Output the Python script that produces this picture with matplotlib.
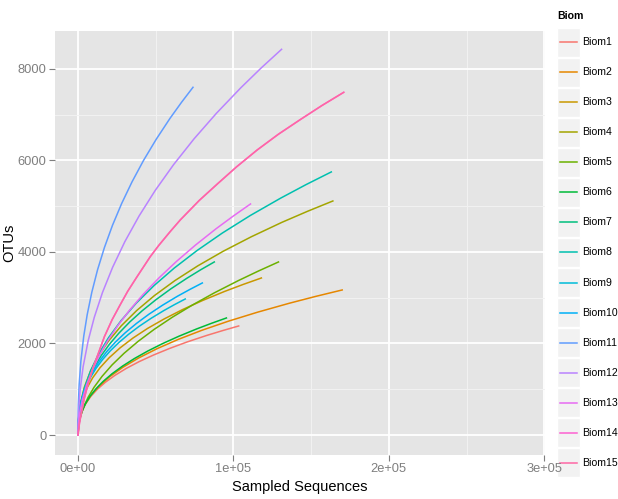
import matplotlib
matplotlib.use('Agg')
import matplotlib.pyplot as plt
from matplotlib import font_manager
from matplotlib.patches import Rectangle

plt.rcParams['font.family'] = ['Liberation Sans', 'DejaVu Sans']
installed = {f.name for f in font_manager.fontManager.ttflist}
if 'Liberation Sans Narrow' in installed:
    legend_font, legend_size = 'Liberation Sans Narrow', 9
else:
    legend_font, legend_size = 'Liberation Sans', 7.6

# rarefaction curves (sampled sequences, OTUs)
biom1_x = [0, 310, 1034, 2585, 5170, 8272, 12408, 17578, 23782, 31020, 39292, 48598, 58938, 70312, 82720, 93060, 103400]
biom1_y = [0, 220, 361, 525, 698, 846, 999, 1152, 1304, 1455, 1603, 1748, 1892, 2035, 2175, 2282, 2383]
biom2_x = [0, 510, 1700, 4250, 8500, 13600, 20400, 28900, 39100, 51000, 64600, 79900, 96900, 115600, 136000, 153000, 170000]
biom2_y = [0, 261, 438, 649, 874, 1070, 1274, 1480, 1685, 1889, 2091, 2291, 2489, 2685, 2880, 3030, 3170]
biom3_x = [0, 354, 1180, 2950, 5900, 9440, 14160, 20060, 27140, 35400, 44840, 55460, 67260, 80240, 94400, 106200, 118000]
biom3_y = [0, 336, 544, 785, 1035, 1250, 1470, 1689, 1906, 2120, 2331, 2537, 2741, 2941, 3139, 3290, 3432]
biom4_x = [0, 492, 1640, 4100, 8200, 13120, 19680, 27880, 37720, 49200, 62320, 77080, 93480, 111520, 131200, 147600, 164000]
biom4_y = [0, 421, 706, 1047, 1411, 1726, 2056, 2388, 2719, 3048, 3374, 3697, 4017, 4333, 4648, 4888, 5115]
biom5_x = [0, 387, 1290, 3225, 6450, 10320, 15480, 21930, 29670, 38700, 49020, 60630, 73530, 87720, 103200, 116100, 129000]
biom5_y = [0, 196, 361, 576, 821, 1043, 1282, 1532, 1787, 2047, 2309, 2573, 2839, 3107, 3375, 3584, 3782]
biom6_x = [0, 287, 955, 2388, 4775, 7640, 11460, 16235, 21965, 28650, 36290, 44885, 54435, 64940, 76400, 85950, 95500]
biom6_y = [0, 199, 337, 505, 685, 842, 1006, 1173, 1340, 1506, 1671, 1835, 1998, 2159, 2319, 2442, 2558]
biom7_x = [0, 263, 877, 2193, 4385, 7016, 10524, 14909, 20171, 26310, 33326, 41219, 49989, 59636, 70160, 78930, 87700]
biom7_y = [0, 293, 498, 746, 1012, 1245, 1488, 1734, 1981, 2226, 2471, 2713, 2953, 3192, 3428, 3611, 3782]
biom8_x = [0, 489, 1630, 4075, 8150, 13040, 19560, 27710, 37490, 48900, 61940, 76610, 92910, 110840, 130400, 146700, 163000]
biom8_y = [0, 375, 660, 1015, 1406, 1754, 2123, 2500, 2882, 3265, 3649, 4032, 4415, 4797, 5177, 5472, 5750]
biom9_x = [0, 207, 690, 1725, 3450, 5520, 8280, 11730, 15870, 20700, 26220, 32430, 39330, 46920, 55200, 62100, 69000]
biom9_y = [0, 291, 471, 680, 897, 1082, 1273, 1463, 1651, 1837, 2019, 2198, 2375, 2548, 2719, 2850, 2973]
biom10_x = [0, 240, 800, 2000, 4000, 6400, 9600, 13600, 18400, 24000, 30400, 37600, 45600, 54400, 64000, 72000, 80000]
biom10_y = [0, 307, 503, 732, 973, 1180, 1393, 1607, 1819, 2028, 2235, 2438, 2639, 2837, 3033, 3182, 3323]
biom11_x = [0, 222, 740, 1850, 3700, 5920, 8880, 12580, 17020, 22200, 28120, 34780, 42180, 50320, 59200, 66600, 74000]
biom11_y = [0, 663, 1099, 1614, 2160, 2631, 3119, 3611, 4099, 4584, 5062, 5534, 6002, 6463, 6921, 7271, 7600]
biom12_x = [0, 393, 1310, 3275, 6550, 10480, 15720, 22270, 30130, 39300, 49780, 61570, 74670, 89080, 104800, 117900, 131000]
biom12_y = [0, 550, 968, 1489, 2062, 2572, 3112, 3665, 4225, 4787, 5350, 5912, 6473, 7032, 7590, 8023, 8430]
biom13_x = [0, 333, 1110, 2775, 5550, 8880, 13320, 18870, 25530, 33300, 42180, 52170, 63270, 75480, 88800, 99900, 111000]
biom13_y = [0, 261, 482, 770, 1096, 1393, 1712, 2046, 2387, 2733, 3083, 3436, 3791, 4148, 4507, 4785, 5050]
biom14_x = [0, 1000, 2400, 4000, 6700, 10000, 17000, 22000, 27000, 32000, 37800, 46500, 52000, 59400,
            65800, 78000, 90000, 102000, 115300, 129000, 143000, 157000, 171000]
biom14_y = [0, 270, 520, 790, 1150, 1498, 2150, 2523, 2837, 3142, 3450, 3898, 4145, 4449,
            4700, 5126, 5497, 5860, 6230, 6575, 6893, 7202, 7490]
biom15_x = [0, 1000, 2400, 4000, 6700, 10000, 17000, 22000, 27000, 32000, 37800, 46500, 52000, 59400,
            65800, 78000, 90000, 102000, 115300, 129000, 143000, 157000, 171000]
biom15_y = [0, 270, 520, 790, 1150, 1498, 2150, 2523, 2837, 3142, 3450, 3898, 4145, 4449,
            4700, 5126, 5497, 5860, 6230, 6575, 6893, 7202, 7490]

names = ['Biom%d' % i for i in range(1, 16)]
series = [(biom1_x, biom1_y), (biom2_x, biom2_y), (biom3_x, biom3_y),
          (biom4_x, biom4_y), (biom5_x, biom5_y), (biom6_x, biom6_y),
          (biom7_x, biom7_y), (biom8_x, biom8_y), (biom9_x, biom9_y),
          (biom10_x, biom10_y), (biom11_x, biom11_y), (biom12_x, biom12_y),
          (biom13_x, biom13_y), (biom14_x, biom14_y), (biom15_x, biom15_y)]
colors = ['#F8766D', '#E58700', '#C99800', '#A3A500', '#6BB100', '#00BA38',
          '#00BF7D', '#00C0AF', '#00BCD8', '#00B0F6', '#619CFF', '#B983FF',
          '#E76BF3', '#FD61D1', '#FF67A4']

x_ticks = [0, 100000, 200000, 300000]
x_labels = ['0e+00', '1e+05', '2e+05', '3e+05']
y_ticks = [0, 2000, 4000, 6000, 8000]

W, H = 618, 499
fig = plt.figure(figsize=(W / 100, H / 100), dpi=100)
ax = fig.add_axes([55 / W, 1 - 455 / H, 490 / W, 424 / H])
ax.set_facecolor('#E5E5E5')

for (xs, ys), c in zip(series, colors):
    ax.plot(xs, ys, color=c, lw=1.1, solid_joinstyle='round')

ax.set_xlim(-14800, 300500)
ax.set_ylim(-437, 8830)

ax.set_xticks(x_ticks)
ax.set_xticklabels(x_labels)
ax.set_yticks(y_ticks)
ax.set_xticks([50000, 150000, 250000], minor=True)
ax.set_yticks([1000, 3000, 5000, 7000], minor=True)
ax.grid(which='major', color='white', lw=1.3)
ax.grid(which='minor', color='#F2F2F2', lw=0.7)
ax.set_axisbelow(True)
for s in ax.spines.values():
    s.set_visible(False)
ax.tick_params(which='major', length=4, width=0.8, color='#7F7F7F',
               labelcolor='#7F7F7F', labelsize=9.3, pad=2)
ax.tick_params(which='minor', length=0)

ax.set_xlabel('Sampled Sequences', fontsize=10.5, labelpad=3)
ax.set_ylabel('OTUs', fontsize=10.5, labelpad=1)

# legend drawn in pixel coordinates, underneath the plot axes
lax = fig.add_axes([0, 0, 1, 1], zorder=-1)
lax.set_xlim(0, W)
lax.set_ylim(H, 0)
lax.axis('off')
lax.text(557, 16, 'Biom', fontsize=legend_size, fontweight='bold',
         family=legend_font, va='center', ha='left')
for i, (name, c) in enumerate(zip(names, colors)):
    yc = 42 + 30.07 * i
    lax.add_patch(Rectangle((557, yc - 14.5), 23, 29, facecolor='#F2F2F2',
                            edgecolor='white', lw=1))
    lax.plot([560, 577], [yc, yc], color=c, lw=1.1)
    lax.text(582, yc, name, fontsize=legend_size, family=legend_font,
             va='center', ha='left')

fig.savefig('out.png', dpi=100)
